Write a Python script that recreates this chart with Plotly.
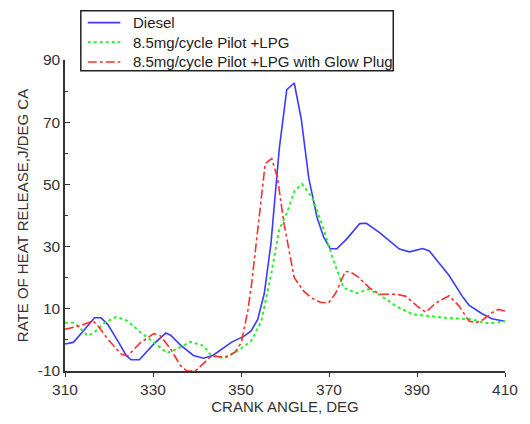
import plotly.graph_objects as go

# Diesel
diesel_x = [310, 311.9, 314.5, 316.7, 318.2, 319.7, 322, 323.9, 325, 326.9, 330.2, 332.9, 334, 336.2, 339.2,
            341.5, 343.6, 347.8, 350.8, 352.3, 353.8, 355.3, 356.8, 358.7, 360.4, 362.1, 363.7, 365.4,
            367.3, 368.8, 370.3, 371.8, 374, 377, 378.5, 381.5, 386, 388.3, 391.3, 392.8, 397.3,
            400.3, 401.8, 404.8, 407, 410]
diesel_y = [-1.3, -0.8, 3.4, 7.1, 7.1, 5.0, -0.3, -5.0, -6.4, -6.4, -1.3, 2.2, 1.5, -1.6, -5.0,
            -5.9, -5.0, -0.8, 1.3, 2.9, 6.6, 15.0, 30.9, 61.5, 80.5, 82.6, 71.0, 52.0,
            39.3, 33.0, 29.3, 29.3, 32.4, 37.4, 37.5, 34.5, 29.2, 28.3, 29.4, 28.6, 20.7,
            14.0, 11.2, 8.4, 6.8, 6.0]

# 8.5mg/cycle Pilot +LPG
lpg_x = [310, 312.2, 315.2, 316.7, 319, 321.6, 324.2, 327.2, 330.2, 333.2, 335.5, 338.5, 341.5, 343.3,
         346.3, 349.3, 352.3, 354.6, 356.8, 358.7, 360.6, 362.2, 363.9, 366.2, 368.4, 371, 373.3,
         376.3, 378.9, 381.5, 385.3, 389, 392, 396.5, 400.3, 402.5, 405.5, 408, 410]
lpg_y = [5.5, 5.5, 1.3, 2.5, 5.5, 7.4, 6.1, 2.4, -0.8, -4.2, -2.9, -0.6, -1.9, -5.1,
         -5.9, -3.5, -0.4, 6.0, 20.7, 35.5, 41.4, 48.0, 50.1, 45.7, 37.2, 25.6, 16.8,
         15.0, 16.3, 14.5, 10.8, 8.2, 7.8, 7.1, 6.8, 6.6, 5.4, 5.5, 6.0]

# 8.5mg/cycle Pilot +LPG with Glow Plug
glow_x = [310, 313.4, 316.4, 317.5, 319.7, 322.7, 324.2, 327.2, 330.2, 331.7, 334, 336.2, 337.7, 339.6,
          342.2, 343.3, 346.3, 348.6, 350.1, 351.6, 352.5, 354.2, 355.5, 357, 358.3, 359.8, 362.1,
          364.3, 366, 368, 369.9, 371.5, 373.7, 374.8, 376.6, 379.3, 381.5, 385.3, 387.5, 390.1,
          392, 394.3, 397.3, 399.6, 401.8, 403.4, 405, 407, 408.5, 410]
glow_y = [3.4, 4.5, 6.1, 4.5, 0.3, -4.5, -5.2, -0.8, 2.0, 1.3, -2.9, -8.2, -10.0, -10.0,
          -6.6, -5.1, -5.6, -4.0, -0.8, 9.8, 19.0, 41.4, 56.7, 58.3, 52.0, 37.2, 20.0,
          15.6, 13.5, 12.1, 11.9, 15.0, 22.0, 21.9, 20.3, 16.6, 14.7, 14.7, 14.0, 10.8,
          8.9, 11.9, 14.2, 10.8, 6.1, 5.5, 6.5, 8.7, 9.8, 9.3]

series_names = ["Diesel", "8.5mg/cycle Pilot +LPG", "8.5mg/cycle Pilot +LPG with Glow Plug"]
series_colors = ["#3b3bff", "#2bf02b", "#ff2d2d"]
series_dash = ["solid", "dot", "dashdot"]
series_width = [1.6, 2, 1.6]

x_ticks = [310, 330, 350, 370, 390, 410]
y_ticks = [-10, 10, 30, 50, 70, 90]

FONT = "Liberation Sans, Arial, sans-serif"

fig = go.Figure()
for xs, ys, nm, col, dsh, w in zip([diesel_x, lpg_x, glow_x], [diesel_y, lpg_y, glow_y],
                                   series_names, series_colors, series_dash, series_width):
    fig.add_trace(go.Scatter(x=xs, y=ys, mode="lines", name=nm, showlegend=False,
                             line=dict(color=col, width=w, dash=dsh)))

# Legend drawn in paper coordinates (plot area: 65..510 px wide, 60..376 px tall)
L, T, PW, PH = 65, 60, 445, 316
def px(xp):
    return (xp - L) / PW
def py(yp):
    return (T + PH - yp) / PH

shapes = [dict(type="rect", xref="paper", yref="paper", x0=px(81), x1=px(397), y0=py(71), y1=py(10),
               line=dict(color="#222222", width=1.5), fillcolor="white", layer="above")]
annotations = []
row_y = [22, 42, 62]
for i, nm in enumerate(series_names):
    shapes.append(dict(type="line", xref="paper", yref="paper", x0=px(88), x1=px(121),
                       y0=py(row_y[i]), y1=py(row_y[i]), layer="above",
                       line=dict(color=series_colors[i], width=series_width[i], dash=series_dash[i])))
    annotations.append(dict(xref="paper", yref="paper", x=px(132), y=py(row_y[i]),
                            xanchor="left", yanchor="middle", showarrow=False, text=nm,
                            font=dict(family=FONT, size=15, color="#222222")))

fig.update_layout(
    width=530, height=424,
    margin=dict(l=L, r=20, t=T, b=48),
    paper_bgcolor="white", plot_bgcolor="white",
    font=dict(family=FONT, size=15, color="#333333"),
    showlegend=False,
    shapes=shapes,
    annotations=annotations,
    xaxis=dict(range=[310, 410], tickvals=x_ticks, ticktext=[str(v) for v in x_ticks],
               tickfont=dict(size=15.5),
               showgrid=False, zeroline=False, showline=True, linecolor="#333333", linewidth=1.5,
               ticks="outside", ticklen=4, tickcolor="#333333",
               title=dict(text="CRANK ANGLE, DEG", font=dict(size=15, color="#333333"), standoff=3)),
    yaxis=dict(range=[-10, 90], tickvals=y_ticks, ticktext=[str(v) for v in y_ticks],
               tickfont=dict(size=15.5),
               showgrid=False, zeroline=False, showline=True, linecolor="#333333", linewidth=1.5,
               ticks="inside", ticklen=5, tickcolor="#333333",
               minor=dict(tickvals=[0, 20, 40, 60, 80], ticks="inside", ticklen=3, tickcolor="#333333"),
               title=dict(text="RATE OF HEAT RELEASE,J/DEG CA", font=dict(size=15, color="#333333"), standoff=5)),
)

fig.write_html("out.html")
